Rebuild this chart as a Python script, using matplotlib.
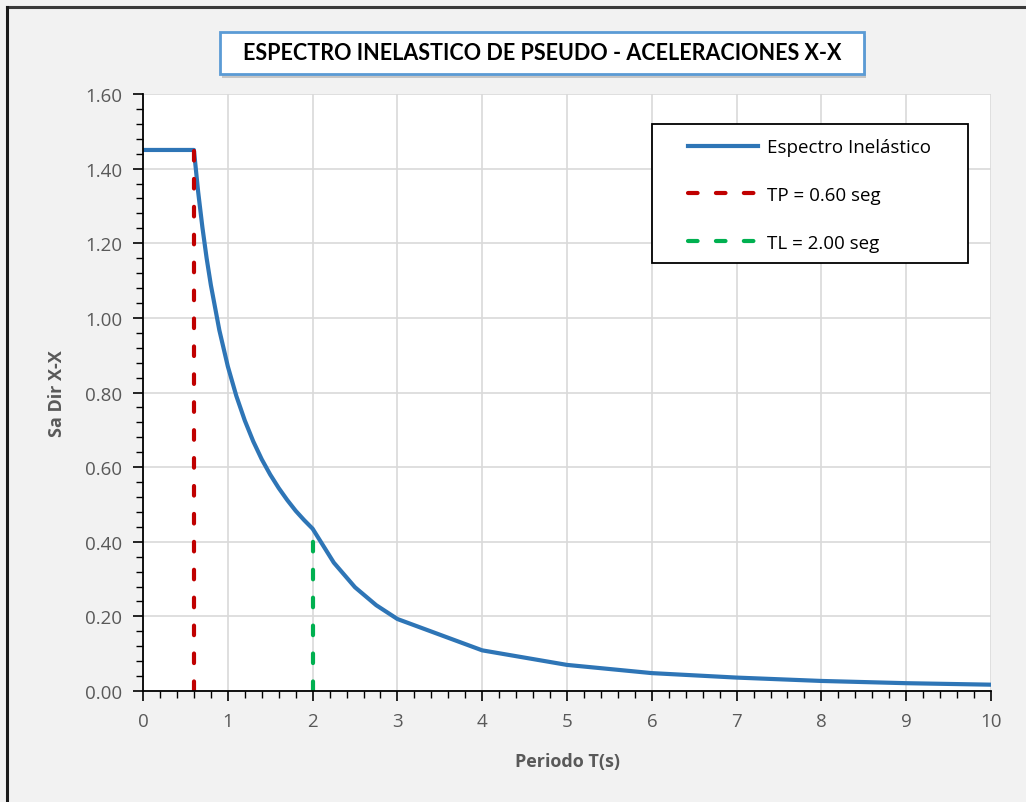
import numpy as np
import matplotlib
matplotlib.use("Agg")
import matplotlib.pyplot as plt
from matplotlib.patches import Rectangle
from matplotlib.lines import Line2D
from matplotlib.ticker import MultipleLocator, FormatStrFormatter

# spectrum ordinates (periodo T in s, Sa)
periodo = [0.0, 0.6, 0.65, 0.7, 0.75, 0.8, 0.9, 1.0, 1.1, 1.2, 1.3, 1.4, 1.5,
           1.6, 1.7, 1.8, 1.9, 2.0, 2.25, 2.5, 2.75, 3.0, 4.0, 5.0, 6.0, 7.0,
           8.0, 9.0, 10.0]
sa = [1.450, 1.450, 1.338, 1.243, 1.160, 1.088, 0.967, 0.870, 0.791, 0.725,
      0.669, 0.621, 0.580, 0.544, 0.512, 0.483, 0.458, 0.435, 0.344, 0.278,
      0.230, 0.193, 0.109, 0.070, 0.048, 0.036, 0.027, 0.021, 0.017]

tp_x = [0.6, 0.6]
tp_y = [0.0, 1.45]
tl_x = [2.0, 2.0]
tl_y = [0.0, 0.41]

labels = ["Espectro Inelástico", "TP = 0.60 seg", "TL = 2.00 seg"]
titulo = "ESPECTRO INELASTICO DE PSEUDO - ACELERACIONES X-X"

font = ["Open Sans", "DejaVu Sans"]
gris = "#595959"
dash = (2.3, 4.4)

fig = plt.figure(figsize=(10.26, 8.03), dpi=100)
fig.patch.set_facecolor("#F2F2F2")

# chart frame (top and left edges)
fig.add_artist(Line2D([0.0065, 1.0], [0.9895, 0.9895], color="#3a3a3a", lw=2.2))
fig.add_artist(Line2D([0.0070, 0.0070], [0.0, 0.9895], color="#1a1a1a", lw=2.2))

ax = fig.add_axes([0.1394, 0.1382, 0.8265, 0.7435])
ax.set_facecolor("white")

ax.plot(periodo, sa, color="#2E75B6", lw=3, zorder=3, solid_capstyle="round",
        solid_joinstyle="round")
ax.plot(tp_x, tp_y, color="#C00000", lw=3, dashes=dash,
        dash_capstyle="round", zorder=4)
ax.plot(tl_x, tl_y, color="#00B050", lw=3, dashes=dash,
        dash_capstyle="round", zorder=4)

ax.set_xlim(0, 10)
ax.set_ylim(0, 1.6)
ax.xaxis.set_major_locator(MultipleLocator(1))
ax.xaxis.set_minor_locator(MultipleLocator(0.2))
ax.yaxis.set_major_locator(MultipleLocator(0.2))
ax.yaxis.set_minor_locator(MultipleLocator(0.04))
ax.yaxis.set_major_formatter(FormatStrFormatter("%.2f"))
ax.grid(True, which="major", color="#D9D9D9", lw=1.2, zorder=0)
ax.set_axisbelow(True)

for s in ["top", "right"]:
    ax.spines[s].set_visible(False)
for s in ["left", "bottom"]:
    ax.spines[s].set_color("black")
    ax.spines[s].set_linewidth(1.3)
    ax.spines[s].set_zorder(5)

ax.tick_params(which="major", direction="out", length=7, width=1.2, color="black",
               labelsize=13.5, labelcolor=gris, pad=8)
ax.tick_params(which="minor", direction="out", length=5, width=1.0, color="black")
for lab in ax.get_xticklabels() + ax.get_yticklabels():
    lab.set_family(font)

ax.set_xlabel("Periodo T(s)", fontsize=13, fontweight="bold", color=gris,
              family=font, labelpad=16)
ax.set_ylabel("Sa Dir X-X", fontsize=13, fontweight="bold", color=gris,
              family=font, labelpad=14)

# legend with a square black frame
ax.add_patch(Rectangle((0.600, 0.717), 0.373, 0.233, transform=ax.transAxes,
                       facecolor="white", edgecolor="black", lw=1.3, zorder=6))
handles = [
    Line2D([], [], color="#2E75B6", lw=3),
    Line2D([], [], color="#C00000", lw=3, dashes=dash, dash_capstyle="round"),
    Line2D([], [], color="#00B050", lw=3, dashes=dash, dash_capstyle="round"),
]
leg = ax.legend(handles, labels, loc="upper left", bbox_to_anchor=(0.636, 0.935),
                frameon=False, handlelength=3.75, handletextpad=0.45,
                labelspacing=1.58, borderaxespad=0, borderpad=0.3,
                prop={"family": font, "size": 13.5})
leg.set_zorder(7)

# title box with a soft shadow
fig.add_artist(Rectangle((0.2164, 0.9016), 0.6277, 0.0523, facecolor="#9a9a9a",
                         edgecolor="none", alpha=0.5))
fig.add_artist(Rectangle((0.2144, 0.9066), 0.6277, 0.0523, facecolor="white",
                         edgecolor="#5B9BD5", lw=2.0))
fig.text(0.5283, 0.9328, titulo, ha="center", va="center", fontsize=15.5,
         fontweight="bold", color="black", family=["Lato", "DejaVu Sans"])

fig.savefig("out.png", dpi=100, facecolor=fig.get_facecolor())
